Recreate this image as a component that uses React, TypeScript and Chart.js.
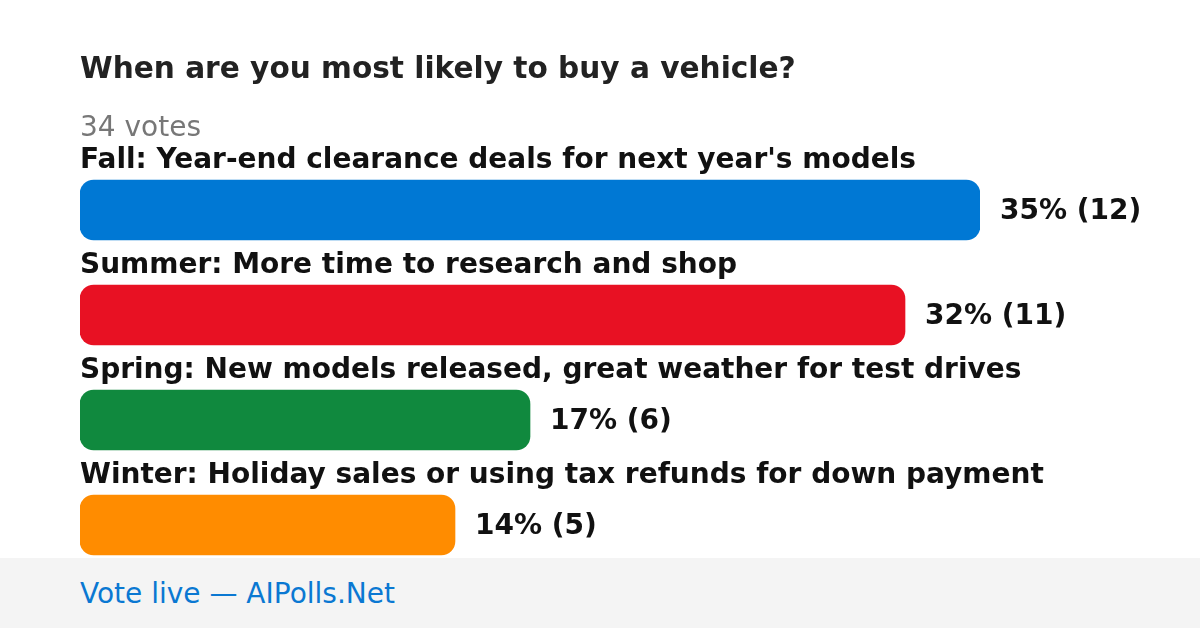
import React, { useEffect, useRef } from "react";
import { Chart, registerables } from "chart.js";

Chart.register(...registerables);

const title = "When are you most likely to buy a vehicle?";
const totalLabel = "34 votes";
const footerText = "Vote live — AIPolls.Net";
const categories = [
  "Fall: Year-end clearance deals for next year's models",
  "Summer: More time to research and shop",
  "Spring: New models released, great weather for test drives",
  "Winter: Holiday sales or using tax refunds for down payment",
];
const votes = [12, 11, 6, 5];
const valueLabels = ["35% (12)", "32% (11)", "17% (6)", "14% (5)"];
const colors = ["#0078D4", "#E81123", "#10893E", "#FF8C00"];

const FONT = "'DejaVu Sans', sans-serif";

const labelPlugin = {
  id: "pollLabels",
  afterDatasetsDraw(chart: any) {
    const ctx = chart.ctx;
    const meta = chart.getDatasetMeta(0);
    ctx.save();
    meta.data.forEach((bar: any, i: number) => {
      const top = bar.y - bar.height / 2;
      ctx.fillStyle = "#111111";
      ctx.font = `bold 28px ${FONT}`;
      ctx.textAlign = "left";
      ctx.textBaseline = "alphabetic";
      ctx.fillText(categories[i], chart.chartArea.left, top - 12);
      ctx.fillText(valueLabels[i], bar.x + 20, bar.y + 9);
    });
    ctx.restore();
  },
};

export default function App() {
  const ref = useRef<HTMLCanvasElement>(null);
  useEffect(() => {
    const chart = new Chart(ref.current!, {
      type: "bar",
      data: {
        labels: categories,
        datasets: [
          {
            data: votes,
            backgroundColor: colors,
            borderRadius: 14,
            borderSkipped: false,
            barThickness: 60,
          },
        ],
      },
      options: {
        indexAxis: "y",
        responsive: false,
        animation: false,
        devicePixelRatio: 1,
        layout: { padding: { left: 80, right: 220, top: 157.5, bottom: 50.5 } },
        plugins: { legend: { display: false }, tooltip: { enabled: false } },
        scales: {
          x: { display: false, min: 0, max: 12 },
          y: { display: false },
        },
      },
      plugins: [labelPlugin],
    });
    return () => chart.destroy();
  }, []);

  return (
    <div style={{ position: "absolute", left: 0, top: 0, width: 1200, height: 628, background: "#fff", overflow: "hidden", fontFamily: FONT }}>
      <canvas ref={ref} width={1200} height={628} style={{ position: "absolute", left: 0, top: 0 }} />
      <div style={{ position: "absolute", left: 80, top: 50, fontSize: 29.6, fontWeight: "bold", color: "#222", whiteSpace: "nowrap", lineHeight: "36px" }}>{title}</div>
      <div style={{ position: "absolute", left: 80, top: 110, fontSize: 28, color: "#777", whiteSpace: "nowrap", lineHeight: "34px" }}>{totalLabel}</div>
      <div style={{ position: "absolute", left: 0, top: 558, width: 1200, height: 70, background: "#F4F4F4" }}>
        <div style={{ position: "absolute", left: 80, top: 19, fontSize: 28, color: "#0A78D2", whiteSpace: "nowrap", lineHeight: "34px" }}>{footerText}</div>
      </div>
    </div>
  );
}
